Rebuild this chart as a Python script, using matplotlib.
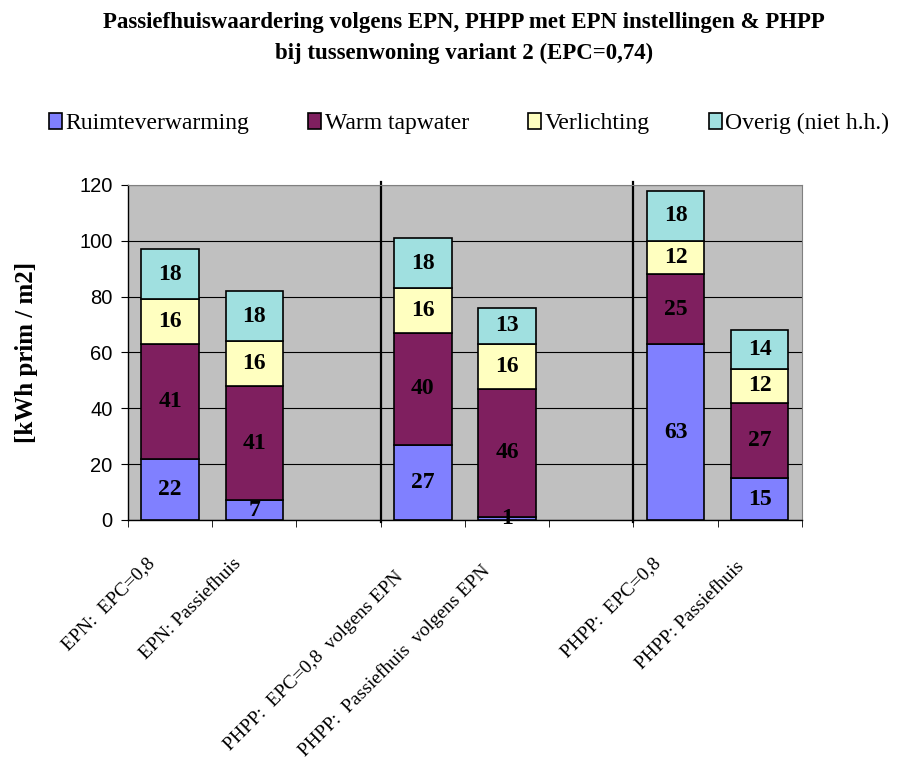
import numpy as np
import matplotlib
matplotlib.use("Agg")
import matplotlib.pyplot as plt
import matplotlib.transforms as mtransforms

# Data: energieverbruik per categorie (kWh prim / m2)
categories = ["EPN:  EPC=0,8", "EPN: Passiefhuis", "",
              "PHPP:  EPC=0,8  volgens EPN", "PHPP:  Passiefhuis  volgens EPN", "",
              "PHPP:  EPC=0,8", "PHPP: Passiefhuis"]
series_names = ["Ruimteverwarming", "Warm tapwater", "Verlichting", "Overig (niet h.h.)"]
ruimteverwarming = [22, 7, np.nan, 27, 1, np.nan, 63, 15]
warm_tapwater = [41, 41, np.nan, 40, 46, np.nan, 25, 27]
verlichting = [16, 16, np.nan, 16, 16, np.nan, 12, 12]
overig = [18, 18, np.nan, 18, 13, np.nan, 18, 14]
colors = ["#8080FF", "#7F1F5F", "#FFFFC0", "#A0E0E0"]

serif = "Liberation Serif"

fig = plt.figure(figsize=(9.02, 7.6), dpi=100)
ax = fig.add_axes([0.1419, 0.3158, 0.7472, 0.4408])
ax.set_facecolor("#C0C0C0")

x = np.arange(len(categories))
bottom = np.zeros(len(categories))
handles = []
for name, vals, col in zip(series_names, [ruimteverwarming, warm_tapwater, verlichting, overig], colors):
    vals = np.array(vals, dtype=float)
    ok = ~np.isnan(vals)
    b = ax.bar(x[ok], vals[ok], width=0.68, bottom=bottom[ok], color=col,
               edgecolor="black", linewidth=1.2, label=name, zorder=3)
    handles.append(b)
    for xi, v, bt in zip(x[ok], vals[ok], bottom[ok]):
        ax.text(xi, bt + v / 2, f"{int(v)}", ha="center", va="center",
                fontsize=17, fontweight="bold", family=serif, zorder=4)
    bottom += np.nan_to_num(vals)

ax.set_xlim(-0.5, len(categories) - 0.5)
ax.set_ylim(0, 120)
ax.set_yticks(np.arange(0, 121, 20))
ax.yaxis.grid(True, color="black", linewidth=0.8, zorder=1)
ax.set_axisbelow(True)

# scheidingslijnen tussen de groepen
for sep in [2.5, 5.5]:
    ax.axvline(sep, ymin=-0.005, ymax=1.008, color="black", linewidth=1.6, zorder=2, clip_on=False)

for s in ["top", "right"]:
    ax.spines[s].set_color("#808080")
for s in ["left", "bottom"]:
    ax.spines[s].set_color("black")
    ax.spines[s].set_linewidth(1.0)

ax.tick_params(axis="y", direction="out", length=5, labelsize=14.5, pad=6)
for lab in ax.get_yticklabels():
    lab.set_family("Liberation Sans")

ax.set_xticks(x)
ax.set_xticklabels(categories, rotation=45, ha="right", rotation_mode="anchor",
                   fontsize=14, family=serif)
ax.set_xticks(np.arange(-0.5, len(categories), 1), minor=True)
ax.tick_params(axis="x", which="major", length=0, pad=0)
ax.tick_params(axis="x", which="minor", direction="out", length=5)
# lange labels staan in het origineel iets lager
shift_x = [-24, -22, 0, -28, -26, 0, -24, -24]
shift_y = [-35, -35, 0, -48, -42, 0, -35, -38]
for lab, dx, dy in zip(ax.get_xticklabels(), shift_x, shift_y):
    off = mtransforms.ScaledTranslation(dx / 100, dy / 100, fig.dpi_scale_trans)
    lab.set_transform(lab.get_transform() + off)

ax.set_ylabel("[kWh prim / m2]", fontsize=18, fontweight="bold", family=serif, labelpad=30)

fig.text(0.514, 0.984, "Passiefhuiswaardering volgens EPN, PHPP met EPN instellingen & PHPP\n"
         "bij tussenwoning variant 2 (EPC=0,74)", ha="center", va="top",
         fontsize=16.5, fontweight="bold", family=serif, linespacing=1.6)

fig.legend(handles=handles, labels=series_names, loc="center", bbox_to_anchor=(0.52, 0.837),
           ncol=4, frameon=False, handlelength=0.55, handleheight=0.65,
           handletextpad=0.15, columnspacing=2.5, prop={"family": serif, "size": 17})

fig.savefig("out.png", dpi=100)
